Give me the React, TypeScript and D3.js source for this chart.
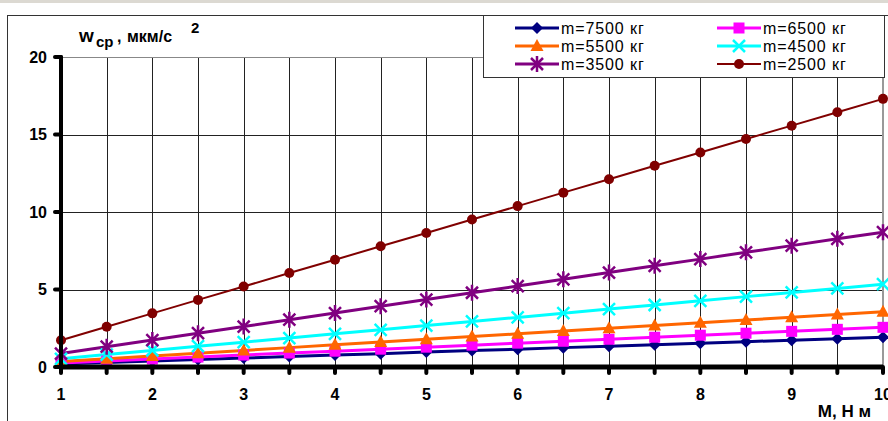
import React, { useEffect, useRef } from 'react';
import * as d3 from 'd3';

// moment M, Н·м (step 0.5)
const moments = [1, 1.5, 2, 2.5, 3, 3.5, 4, 4.5, 5, 5.5, 6, 6.5, 7, 7.5, 8, 8.5, 9, 9.5, 10];

const w7500 = [0.19, 0.29, 0.38, 0.48, 0.58, 0.67, 0.77, 0.86, 0.96, 1.06, 1.15, 1.25, 1.34, 1.44, 1.54, 1.63, 1.73, 1.82, 1.92];
const w6500 = [0.26, 0.38, 0.51, 0.64, 0.77, 0.9, 1.02, 1.15, 1.28, 1.41, 1.54, 1.66, 1.79, 1.92, 2.05, 2.18, 2.3, 2.43, 2.56];
const w5500 = [0.36, 0.54, 0.71, 0.89, 1.07, 1.25, 1.43, 1.61, 1.79, 1.96, 2.14, 2.32, 2.5, 2.68, 2.86, 3.03, 3.21, 3.39, 3.57];
const w4500 = [0.53, 0.8, 1.07, 1.34, 1.6, 1.87, 2.14, 2.4, 2.67, 2.94, 3.2, 3.47, 3.74, 4.0, 4.27, 4.54, 4.81, 5.07, 5.34];
const w3500 = [0.87, 1.31, 1.74, 2.18, 2.61, 3.05, 3.48, 3.92, 4.35, 4.79, 5.22, 5.66, 6.09, 6.53, 6.96, 7.4, 7.83, 8.27, 8.7];
const w2500 = [1.73, 2.6, 3.46, 4.33, 5.19, 6.06, 6.92, 7.79, 8.65, 9.52, 10.38, 11.25, 12.11, 12.98, 13.84, 14.71, 15.57, 16.44, 17.3];

const xTicks = [1, 2, 3, 4, 5, 6, 7, 8, 9, 10];
const yTicks = [0, 5, 10, 15, 20];

const series = [
  { name: 'm=7500 кг', values: w7500, color: '#000080', marker: 'diamond', lw: 3 },
  { name: 'm=6500 кг', values: w6500, color: '#FF00FF', marker: 'square', lw: 3 },
  { name: 'm=5500 кг', values: w5500, color: '#FF6600', marker: 'triangle', lw: 3 },
  { name: 'm=4500 кг', values: w4500, color: '#00FFFF', marker: 'x', lw: 3 },
  { name: 'm=3500 кг', values: w3500, color: '#800080', marker: 'star', lw: 3 },
  { name: 'm=2500 кг', values: w2500, color: '#800000', marker: 'circle', lw: 2 },
];

const drawMarker = (g, type, color, x, y) => {
  if (type === 'diamond') {
    g.append('path').attr('d', `M${x},${y - 6}L${x + 6},${y}L${x},${y + 6}L${x - 6},${y}Z`).attr('fill', color);
  } else if (type === 'square') {
    g.append('rect').attr('x', x - 5.5).attr('y', y - 5.5).attr('width', 11).attr('height', 11).attr('fill', color);
  } else if (type === 'triangle') {
    g.append('path').attr('d', `M${x},${y - 7}L${x + 6.5},${y + 5}L${x - 6.5},${y + 5}Z`).attr('fill', color);
  } else if (type === 'x') {
    g.append('path').attr('d', `M${x - 6},${y - 6}L${x + 6},${y + 6}M${x + 6},${y - 6}L${x - 6},${y + 6}`)
      .attr('stroke', color).attr('stroke-width', 2.5);
  } else if (type === 'star') {
    g.append('path').attr('d', `M${x - 6},${y - 6}L${x + 6},${y + 6}M${x + 6},${y - 6}L${x - 6},${y + 6}M${x},${y - 8}L${x},${y + 8}`)
      .attr('stroke', color).attr('stroke-width', 2.5);
  } else {
    g.append('circle').attr('cx', x).attr('cy', y).attr('r', 5).attr('fill', color);
  }
};

const LineChart = () => {
  const svgRef = useRef();
  const width = 888;
  const height = 421;

  useEffect(() => {
    document.body.style.margin = '0';
    const svg = d3.select(svgRef.current);
    svg.selectAll('*').remove();

    const x = d3.scaleLinear().domain([1, 10]).range([61, 883]);
    const y = d3.scaleLinear().domain([0, 20]).range([367, 57]);

    // background and frames
    svg.append('rect').attr('width', width).attr('height', height).attr('fill', '#fff');
    svg.append('rect').attr('width', width).attr('height', 3).attr('fill', '#dcd9d2');
    svg.append('line').attr('x1', 7.5).attr('x2', 7.5).attr('y1', 15).attr('y2', height)
      .attr('stroke', '#333').attr('stroke-width', 1);
    svg.append('line').attr('x1', 7).attr('x2', width).attr('y1', 15.5).attr('y2', 15.5)
      .attr('stroke', '#333').attr('stroke-width', 1);

    // grid
    const grid = svg.append('g').attr('stroke', '#222').attr('stroke-width', 1);
    d3.range(1.5, 10, 0.5).forEach(v => {
      grid.append('line').attr('x1', Math.round(x(v)) + 0.5).attr('x2', Math.round(x(v)) + 0.5)
        .attr('y1', y(20)).attr('y2', y(0));
    });
    yTicks.filter(v => v > 0 && v < 20).forEach(v => {
      grid.append('line').attr('x1', x(1)).attr('x2', x(10))
        .attr('y1', Math.round(y(v)) + 0.5).attr('y2', Math.round(y(v)) + 0.5);
    });
    svg.append('line').attr('x1', x(1)).attr('x2', x(10)).attr('y1', y(20) + 0.5).attr('y2', y(20) + 0.5)
      .attr('stroke', '#888').attr('stroke-width', 1);
    svg.append('line').attr('x1', x(10)).attr('x2', x(10)).attr('y1', y(20)).attr('y2', y(0))
      .attr('stroke', '#999').attr('stroke-width', 2);

    // series
    series.forEach(s => {
      const line = d3.line().x((d, i) => x(moments[i])).y(d => y(d));
      svg.append('path').datum(s.values).attr('d', line)
        .attr('fill', 'none').attr('stroke', s.color).attr('stroke-width', s.lw);
    });
    series.forEach(s => {
      const g = svg.append('g');
      s.values.forEach((v, i) => drawMarker(g, s.marker, s.color, x(moments[i]), y(v)));
    });

    // axes
    svg.append('line').attr('x1', x(1)).attr('x2', x(1)).attr('y1', y(20)).attr('y2', y(0))
      .attr('stroke', '#000').attr('stroke-width', 4).attr('stroke-linecap', 'round');
    svg.append('line').attr('x1', x(1)).attr('x2', x(10)).attr('y1', y(0)).attr('y2', y(0))
      .attr('stroke', '#000').attr('stroke-width', 5);
    d3.range(1, 10.01, 0.5).forEach(v => {
      svg.append('line').attr('x1', x(v)).attr('x2', x(v)).attr('y1', y(0)).attr('y2', y(0) + 6)
        .attr('stroke', '#000').attr('stroke-width', 4).attr('stroke-linecap', 'round');
    });
    yTicks.forEach(v => {
      svg.append('line').attr('x1', x(1) - 6).attr('x2', x(1)).attr('y1', y(v)).attr('y2', y(v))
        .attr('stroke', '#000').attr('stroke-width', 4).attr('stroke-linecap', 'round');
    });

    const font = 'Liberation Sans, Arial, sans-serif';
    svg.append('g').selectAll('text').data(yTicks).join('text')
      .attr('x', 47).attr('y', d => y(d)).attr('dy', '0.35em').attr('text-anchor', 'end')
      .attr('font-family', font).attr('font-weight', 'bold').attr('font-size', 16).text(d => d);
    svg.append('g').selectAll('text').data(xTicks).join('text')
      .attr('x', d => x(d)).attr('y', 400).attr('text-anchor', 'middle')
      .attr('font-family', font).attr('font-weight', 'bold').attr('font-size', 16).text(d => d);

    // axis titles
    const tt = svg.append('g').attr('font-family', font).attr('font-weight', 'bold');
    tt.append('text').attr('x', 79).attr('y', 42).attr('font-size', 19).text('w');
    tt.append('text').attr('x', 96).attr('y', 47).attr('font-size', 15).text('cp');
    tt.append('text').attr('x', 117).attr('y', 42).attr('font-size', 16).text(',');
    tt.append('text').attr('x', 127).attr('y', 42).attr('font-size', 16).text('мкм/с');
    tt.append('text').attr('x', 191).attr('y', 33).attr('font-size', 15).text('2');
    svg.append('text').attr('x', 871).attr('y', 417).attr('text-anchor', 'end')
      .attr('font-family', font).attr('font-weight', 'bold').attr('font-size', 17).text('М, Н м');

    // legend
    const lg = svg.append('g');
    lg.append('rect').attr('x', 483.5).attr('y', 15.5).attr('width', 401).attr('height', 62)
      .attr('fill', '#fff').attr('stroke', '#333').attr('stroke-width', 1);
    series.forEach((s, i) => {
      const lx = i % 2 === 0 ? 515 : 717;
      const ly = 28 + Math.floor(i / 2) * 18;
      lg.append('line').attr('x1', lx).attr('x2', lx + 44).attr('y1', ly).attr('y2', ly)
        .attr('stroke', s.color).attr('stroke-width', s.lw);
      drawMarker(lg, s.marker, s.color, lx + 22, ly);
      lg.append('text').attr('x', lx + 46).attr('y', ly).attr('dy', '0.36em')
        .attr('font-family', font).attr('font-size', 16).attr('letter-spacing', 0.9)
        .attr('fill', '#000').text(s.name);
    });
  }, []);

  return <svg ref={svgRef} width={width} height={height} style={{ display: 'block' }}></svg>;
};

export default function App() {
  return <LineChart />;
}
